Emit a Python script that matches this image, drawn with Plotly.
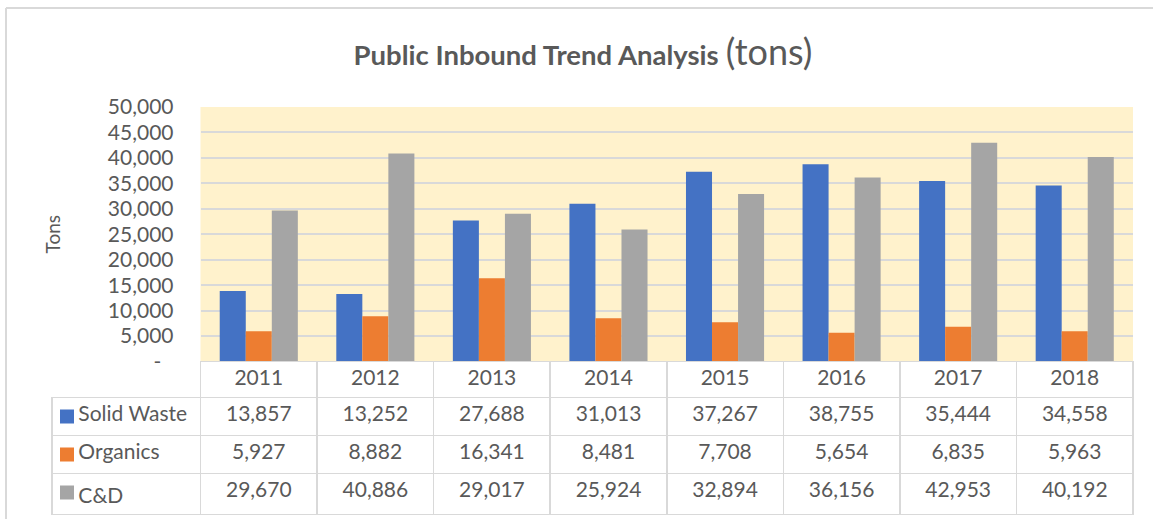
import plotly.graph_objects as go

years = ['2011', '2012', '2013', '2014', '2015', '2016', '2017', '2018']
solid_waste = [13857, 13252, 27688, 31013, 37267, 38755, 35444, 34558]
organics = [5927, 8882, 16341, 8481, 7708, 5654, 6835, 5963]
c_and_d = [29670, 40886, 29017, 25924, 32894, 36156, 42953, 40192]

series_names = ['Solid Waste', 'Organics', 'C&D']
series_colors = ['#4472C4', '#ED7D31', '#A5A5A5']
y_tick_vals = [0, 5000, 10000, 15000, 20000, 25000, 30000, 35000, 40000, 45000, 50000]
y_tick_text = ['-\u2007', '5,000', '10,000', '15,000', '20,000', '25,000',
               '30,000', '35,000', '40,000', '45,000', '50,000']

W, H = 1153, 519
FONT = 'Lato'
TEXT_COLOR = '#595959'
GRID_COLOR = '#D9D9D9'
CLEAR = 'rgba(0,0,0,0)'

# pixel layout of the plot area / data table
plot_left, plot_right = 200.5, 1133
plot_top, plot_bottom = 107, 361.5
table_left = 52
header_h, row_h = 36, 38
n_rows = len(series_names)
col_w = (plot_right - plot_left) / len(years)

fig = go.Figure()

for name, values, color in zip(series_names, [solid_waste, organics, c_and_d], series_colors):
    fig.add_trace(go.Bar(
        x=years,
        y=values,
        name=name,
        marker={'color': color, 'line': {'width': 0}},
        showlegend=False,
    ))

# data table under the chart (acts as x labels + legend)
header_vals = [''] + years
cell_cols = [['\u2003\u2009' + n.replace(' ', '\u00A0') for n in series_names]]
for i in range(len(years)):
    cell_cols.append([f'{s[i]:,}' for s in (solid_waste, organics, c_and_d)])

fig.add_trace(go.Table(
    domain={'x': [table_left / W, plot_right / W], 'y': [0, 1 - plot_bottom / H]},
    columnwidth=[plot_left - table_left] + [col_w] * len(years),
    header={
        'values': header_vals,
        'fill': {'color': [CLEAR] + ['white'] * len(years)},
        'line': {'color': [CLEAR] + [GRID_COLOR] * len(years), 'width': 1.5},
        'font': {'family': FONT, 'size': 21, 'color': TEXT_COLOR},
        'align': 'center',
        'height': header_h,
    },
    cells={
        'values': cell_cols,
        'fill': {'color': CLEAR},
        'line': {'color': GRID_COLOR, 'width': 1.5},
        'font': {'family': FONT, 'size': 21, 'color': TEXT_COLOR},
        'align': ['left'] + ['center'] * len(years),
        'height': row_h,
    },
))

# legend keys inside the first table column, on a hidden axis pair laid over the table rows
body_top = plot_bottom + header_h
body_bottom = body_top + n_rows * row_h
fig.add_trace(go.Scatter(
    x=[0] * n_rows,
    y=list(range(n_rows)),
    mode='markers',
    marker={'symbol': 'square', 'size': 14, 'color': series_colors},
    xaxis='x2',
    yaxis='y2',
    showlegend=False,
    hoverinfo='skip',
))

fig.update_layout(
    width=W,
    height=H,
    margin={'l': 0, 'r': 0, 't': 0, 'b': 0, 'autoexpand': False},
    paper_bgcolor='white',
    plot_bgcolor='white',
    barmode='group',
    bargap=0.33,
    bargroupgap=0,
    font={'family': FONT, 'color': TEXT_COLOR},
    title={
        'text': "<b>Public Inbound Trend Analysis</b> <span style='font-size:36px'>(tons)</span>",
        'x': 583 / W,
        'xanchor': 'center',
        'y': 1 - 55 / H,
        'yanchor': 'middle',
        'font': {'family': FONT, 'size': 27.5, 'color': TEXT_COLOR},
    },
    xaxis={
        'domain': [plot_left / W, plot_right / W],
        'showticklabels': False,
        'showgrid': False,
        'zeroline': False,
    },
    yaxis={
        'domain': [1 - plot_bottom / H, 1 - plot_top / H],
        'range': [0, 50000],
        'tickvals': y_tick_vals,
        'ticktext': y_tick_text,
        'tickfont': {'family': FONT, 'size': 21, 'color': TEXT_COLOR},
        'ticklabelstandoff': 26,
        'showgrid': True,
        'gridcolor': GRID_COLOR,
        'gridwidth': 1.5,
        'zeroline': False,
        'automargin': False,
        'title': {'text': 'Tons', 'font': {'family': FONT, 'size': 19, 'color': TEXT_COLOR},
                  'standoff': 42},
    },
    xaxis2={
        'domain': [table_left / W, plot_left / W],
        'range': [-15, plot_left - table_left - 15],
        'visible': False,
        'anchor': 'y2',
    },
    yaxis2={
        'domain': [1 - body_bottom / H, 1 - body_top / H],
        'range': [n_rows - 0.5, -0.5],
        'visible': False,
        'anchor': 'x2',
    },
)

# plot area fill, under the gridlines
fig.add_shape(type='rect', xref='x domain', yref='y domain',
              x0=0, x1=1, y0=0, y1=1, layer='below',
              fillcolor='#FFF2CC', line={'width': 0})

# outer chart border (top and left edges visible in the reference)
fig.add_shape(type='line', xref='paper', yref='paper',
              x0=6 / W, x1=1.01, y0=1 - 8 / H, y1=1 - 8 / H,
              line={'color': GRID_COLOR, 'width': 2})
fig.add_shape(type='line', xref='paper', yref='paper',
              x0=6 / W, x1=6 / W, y0=1 - 8 / H, y1=-0.01,
              line={'color': GRID_COLOR, 'width': 2})

fig.write_html('out.html', config={'displayModeBar': False},
               post_script="document.body.style.margin = '0';")
